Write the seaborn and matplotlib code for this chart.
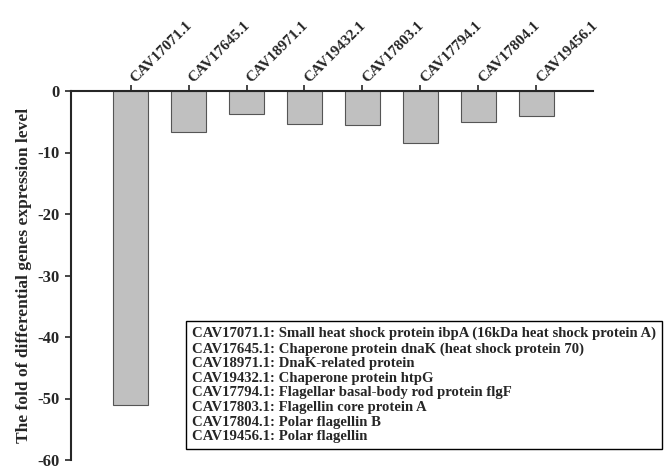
import numpy as np
import pandas as pd
import matplotlib
matplotlib.use('Agg')
import matplotlib.pyplot as plt
import matplotlib.transforms as mtransforms
import seaborn as sns

# Dados
genes = ['CAV17071.1', 'CAV17645.1', 'CAV18971.1', 'CAV19432.1',
         'CAV17803.1', 'CAV17794.1', 'CAV17804.1', 'CAV19456.1']
fold = [-51.0, -6.6, -3.8, -5.4, -5.5, -8.5, -5.0, -4.0]
descricoes = [
    'CAV17071.1: Small heat shock protein ibpA (16kDa heat shock protein A)',
    'CAV17645.1: Chaperone protein dnaK (heat shock protein 70)',
    'CAV18971.1: DnaK-related protein',
    'CAV19432.1: Chaperone protein htpG',
    'CAV17794.1: Flagellar basal-body rod protein flgF',
    'CAV17803.1: Flagellin core protein A',
    'CAV17804.1: Polar flagellin B',
    'CAV19456.1: Polar flagellin',
]

df = pd.DataFrame({'Gene': genes, 'Fold': fold})

sns.set_style('ticks')
plt.rcParams['font.family'] = ['Liberation Serif', 'DejaVu Serif']
plt.rcParams['font.weight'] = 'bold'

fig = plt.figure(figsize=(6.66, 4.70), dpi=100)
ax = fig.add_axes([71 / 666, 10 / 470, 522 / 666, 369 / 470])

sns.barplot(data=df, x='Gene', y='Fold', color='#c0c0c0', saturation=1,
            edgecolor='#555555', linewidth=0.8, width=0.6, ax=ax)

ax.set_ylim(-60, 0)
ax.set_xlim(-1.03, 7.98)
ax.set_yticks(np.arange(-60, 1, 10))
ax.set_yticklabels([str(v) for v in range(-60, 1, 10)], fontsize=12, fontweight='bold')

ax.xaxis.tick_top()
ax.set_xticks(range(len(genes)))
ax.set_xticklabels(genes, rotation=45, ha='left', va='bottom', rotation_mode='anchor',
                   fontsize=11, fontweight='bold')
ax.tick_params(axis='x', direction='out', length=4, width=1.2, pad=0)
ax.tick_params(axis='y', direction='out', length=4, width=1.2, pad=4)

# desloca os rótulos de cima um pouco para a direita
desloc = mtransforms.ScaledTranslation(5 / 72, 0, fig.dpi_scale_trans)
for lbl in ax.get_xticklabels():
    lbl.set_transform(lbl.get_transform() + desloc)

ax.spines['right'].set_visible(False)
ax.spines['bottom'].set_visible(False)
ax.spines['top'].set_linewidth(1.5)
ax.spines['left'].set_linewidth(1.5)

ax.set_xlabel('')
ax.set_ylabel('The fold of differential genes expression level',
              fontsize=12.5, fontweight='bold', labelpad=4)

# Caixa com as descrições
fig.text(192 / 666, 1 - 327 / 470, '\n'.join(descricoes), ha='left', va='top',
         fontsize=10.6, fontweight='bold', linespacing=1.16,
         bbox=dict(boxstyle='square,pad=0.4', fc='white', ec='black', lw=1))

plt.savefig('out.png', dpi=100)
